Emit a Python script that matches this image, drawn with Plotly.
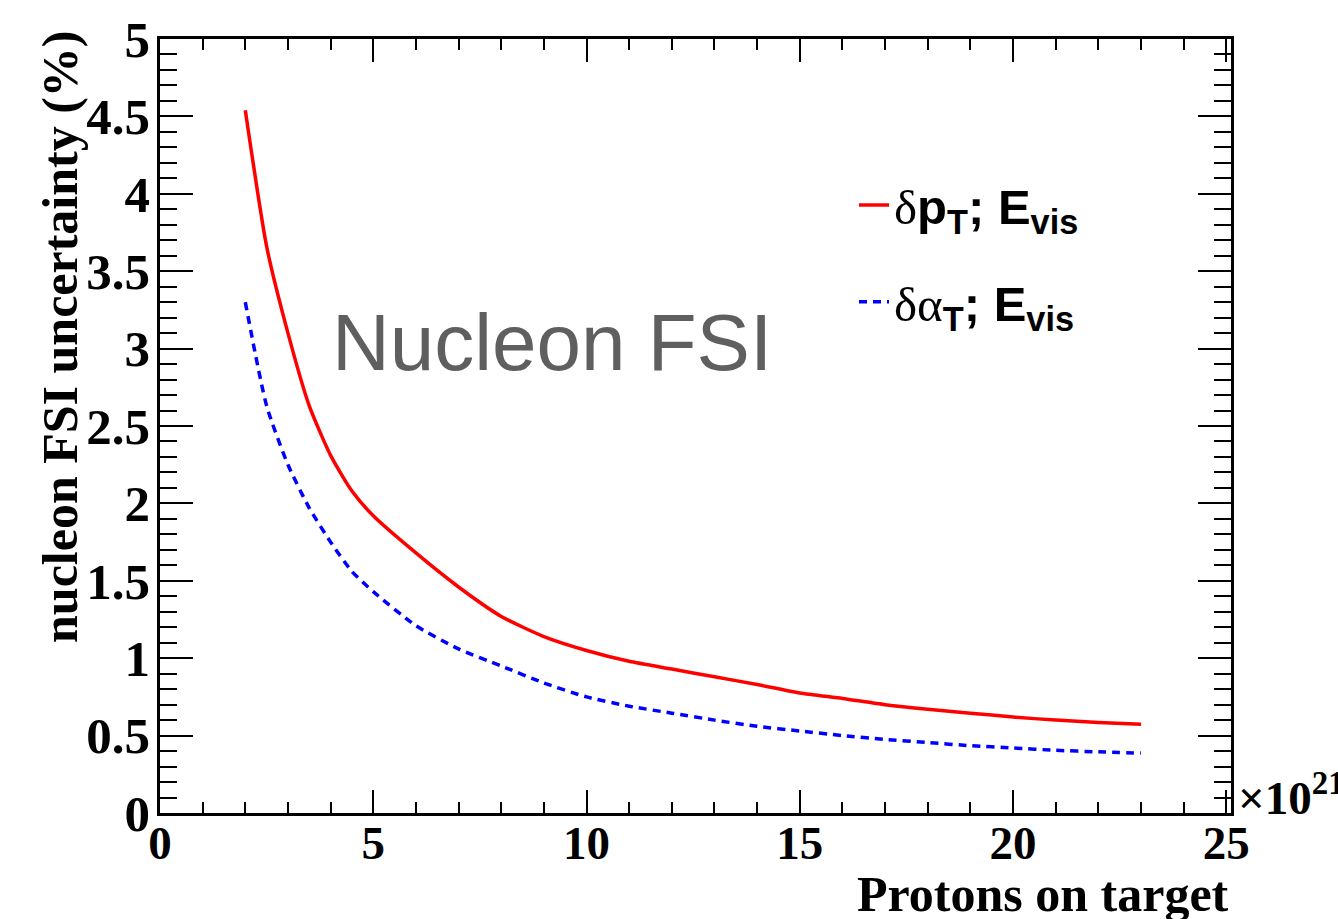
import plotly.graph_objects as go

# Protons on target (x10^21)
pot = [2, 2.5, 3, 3.5, 4, 4.5, 5, 6, 7, 8, 9, 10, 11, 12, 13, 14, 15, 16, 17, 18, 19, 20, 21, 22, 23]

# nucleon FSI uncertainty (%) for each analysis variable pair
unc_dpt = [4.54, 3.66, 3.10, 2.63, 2.31, 2.08, 1.92, 1.68, 1.46, 1.27, 1.14, 1.05, 0.98, 0.93,
           0.88, 0.83, 0.775, 0.74, 0.70, 0.67, 0.645, 0.62, 0.60, 0.585, 0.573]
unc_dat = [3.30, 2.63, 2.25, 1.97, 1.75, 1.56, 1.43, 1.21, 1.06, 0.95, 0.84, 0.75, 0.69, 0.645,
           0.60, 0.56, 0.53, 0.50, 0.475, 0.455, 0.435, 0.42, 0.405, 0.395, 0.387]

label_dpt = ("<span style='font-family:Liberation Serif;font-weight:normal'>δ</span>"
             "<b>p<sub>T</sub>; E<sub>vis</sub></b>")
label_dat = ("<span style='font-family:Liberation Serif;font-weight:normal'>δα</span>"
             "<b><sub>T</sub>; E<sub>vis</sub></b>")

SERIF = "Liberation Serif"
SANS = "Liberation Sans"

fig = go.Figure()
fig.add_trace(go.Scatter(x=pot, y=unc_dpt, mode="lines", name=label_dpt, legendgroup="a",
                         line=dict(color="#ff0000", width=3.5, shape="spline", smoothing=0.6)))
fig.add_trace(go.Scatter(x=pot, y=unc_dat, mode="lines", name=label_dat, legendgroup="b",
                         line=dict(color="#0000ff", width=3.5, dash="8px,6px", shape="spline", smoothing=0.6)))

axis_common = dict(
    showline=True, linecolor="black", linewidth=2.5, mirror="ticks",
    ticks="inside", tickcolor="black", tickwidth=2,
    showgrid=False, zeroline=False,
)

fig.update_xaxes(
    range=[0, 25.11], tickmode="linear", tick0=0, dtick=5, ticklen=23,
    minor=dict(dtick=1, ticklen=11, ticks="inside", tickcolor="black", tickwidth=2),
    tickfont=dict(family=SERIF, size=47, color="black", weight="bold"),
    ticklabelstandoff=-13,
    **axis_common,
)
fig.update_yaxes(
    range=[0, 5], tickmode="linear", tick0=0, dtick=0.5, ticklen=33,
    minor=dict(dtick=0.1, ticklen=17, ticks="inside", tickcolor="black", tickwidth=2),
    tickfont=dict(family=SERIF, size=51, color="black", weight="bold"),
    ticklabelstandoff=-3,
    **axis_common,
)

fig.add_annotation(text="<b>Protons on target</b>", xref="paper", yref="paper",
                   x=1.0, y=-0.066, xanchor="right", yanchor="top", showarrow=False,
                   font=dict(family=SERIF, size=50, color="black"))
fig.add_annotation(text="<b>nucleon FSI uncertainty (%)</b>", xref="paper", yref="paper",
                   x=-0.094, y=1.014, xanchor="center", yanchor="top", textangle=-90, showarrow=False,
                   font=dict(family=SERIF, size=50, color="black"))
fig.add_annotation(text="<b>×10<sup>21</sup></b>", xref="paper", yref="paper",
                   x=1.005, y=-0.017, xanchor="left", yanchor="bottom", showarrow=False,
                   font=dict(family=SERIF, size=47, color="black"))
fig.add_annotation(text="Nucleon FSI", xref="paper", yref="paper",
                   x=0.159, y=0.608, xanchor="left", yanchor="middle", showarrow=False,
                   font=dict(family=SANS, size=80, color="#5f5f5f"))

fig.update_layout(
    width=1338, height=919,
    margin=dict(l=160, r=107, t=32, b=106),
    paper_bgcolor="white", plot_bgcolor="white",
    showlegend=True,
    legend=dict(x=0.648, y=0.835, xanchor="left", yanchor="top",
                font=dict(family=SANS, size=49, color="black"),
                bgcolor="rgba(0,0,0,0)", tracegroupgap=30, traceorder="grouped"),
)

fig.write_html("out.html")
